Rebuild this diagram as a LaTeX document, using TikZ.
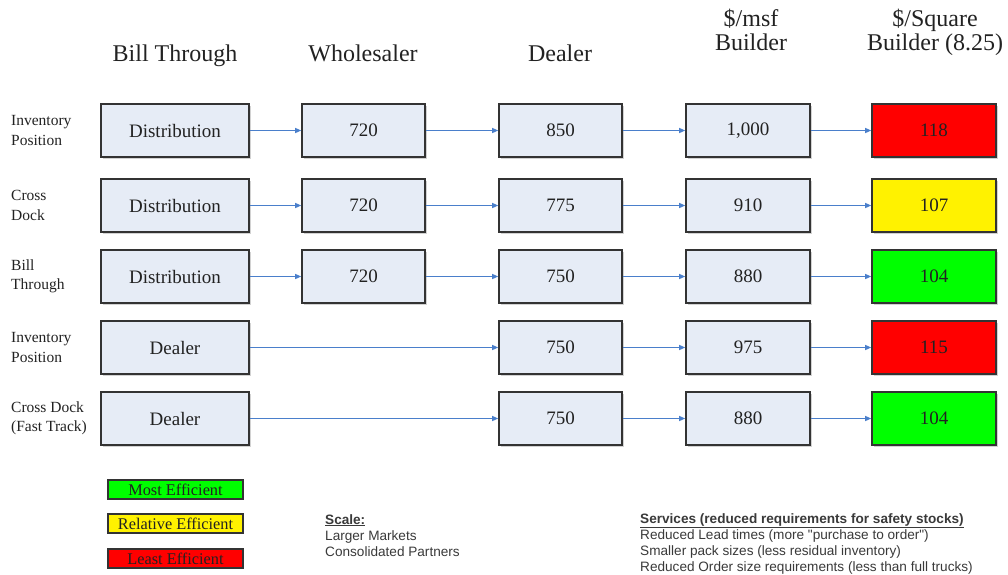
\documentclass[tikz,border=0pt]{standalone}
\usepackage{fontspec}
\setmainfont{Liberation Serif}
\newfontfamily\arialf{Liberation Sans}
\usetikzlibrary{arrows.meta,shadows}
\definecolor{boxfill}{HTML}{E6ECF6}
\definecolor{boxline}{HTML}{333333}
\definecolor{arrowc}{HTML}{4A7FCB}
\definecolor{txt}{HTML}{222222}
\definecolor{sgray}{HTML}{3A3A3A}
\begin{document}
\begin{tikzpicture}[x=1pt,y=-1pt,
  cell/.style={draw=boxline,line width=1.6pt,fill=boxfill,minimum height=53pt,inner sep=0pt,
    font=\fontsize{19}{20}\selectfont,text=txt,
    drop shadow={shadow xshift=1.5pt,shadow yshift=-1.5pt,fill=gray,opacity=0.35}},
  wide/.style={cell,minimum width=148pt},
  mid/.style={cell,minimum width=123pt},
  endc/.style={cell,minimum width=124pt},
  flow/.style={draw=arrowc,line width=1.2pt,-{Triangle[length=6pt,width=5pt]}},
  head/.style={anchor=base,inner sep=0pt,font=\fontsize{24}{26}\selectfont,text=txt},
  side/.style={anchor=west,inner sep=0pt,align=left,font=\fontsize{15.5}{19.5}\selectfont,text=txt},
  legend/.style={draw=boxline,line width=1.3pt,minimum width=135pt,minimum height=19pt,inner sep=0pt,
    font=\fontsize{16.3}{16}\selectfont,text=txt,
    drop shadow={shadow xshift=1pt,shadow yshift=-1pt,fill=gray,opacity=0.35}},
  note/.style={anchor=base west,inner sep=0pt,font=\arialf\fontsize{13.6}{14}\selectfont,text=sgray}
]
\useasboundingbox (0,0) rectangle (1008,574);
\fill[white] (0,0) rectangle (1008,574);

% headers
\node[head] (h1) at (175,61) {Bill Through};
\node[head] (h2) at (363,61) {Wholesaler};
\node[head] (h3) at (560,61) {Dealer};
\node[head] (h4a) at (751,26) {\$/msf};
\node[head] (h4b) at (751,50) {Builder};
\node[head] (h5a) at (935,26) {\$/Square};
\node[head] (h5b) at (935,50) {Builder (8.25)};

% side labels
\node[side] (s1) at (11,130.5) {Inventory\\Position};
\node[side] (s2) at (11,205.5) {Cross\\Dock};
\node[side] (s3) at (11,276.5) {Bill\\Through};
\node[side] (s4) at (11,347.5) {Inventory\\Position};
\node[side] (s5) at (11,418.5) {Cross Dock\\(Fast Track)};

% row 1
\node[wide] (a1) at (175,130.5) {Distribution};
\node[mid]  (b1) at (363.5,130.5) {720};
\node[mid]  (c1) at (560.5,130.5) {850};
\node[endc] (d1) at (748,130.5) {1,000};
\node[endc,fill=red] (e1) at (934,130.5) {118};
% row 2
\node[wide] (a2) at (175,205.5) {Distribution};
\node[mid]  (b2) at (363.5,205.5) {720};
\node[mid]  (c2) at (560.5,205.5) {775};
\node[endc] (d2) at (748,205.5) {910};
\node[endc,fill=yellow] (e2) at (934,205.5) {107};
% row 3
\node[wide] (a3) at (175,276.5) {Distribution};
\node[mid]  (b3) at (363.5,276.5) {720};
\node[mid]  (c3) at (560.5,276.5) {750};
\node[endc] (d3) at (748,276.5) {880};
\node[endc,fill=green] (e3) at (934,276.5) {104};
% row 4
\node[wide] (a4) at (175,347.5) {Dealer};
\node[mid]  (c4) at (560.5,347.5) {750};
\node[endc] (d4) at (748,347.5) {975};
\node[endc,fill=red] (e4) at (934,347.5) {115};
% row 5
\node[wide] (a5) at (175,418.5) {Dealer};
\node[mid]  (c5) at (560.5,418.5) {750};
\node[endc] (d5) at (748,418.5) {880};
\node[endc,fill=green] (e5) at (934,418.5) {104};

% connectors
\foreach \r in {1,2,3}{
  \draw[flow] (a\r) -- (b\r);
  \draw[flow] (b\r) -- (c\r);
  \draw[flow] (c\r) -- (d\r);
  \draw[flow] (d\r) -- (e\r);
}
\foreach \r in {4,5}{
  \draw[flow] (a\r) -- (c\r);
  \draw[flow] (c\r) -- (d\r);
  \draw[flow] (d\r) -- (e\r);
}

% legend
\node[legend,fill=green] (l1) at (175.5,489.5) {Most Efficient};
\node[legend,fill=yellow] (l2) at (175.5,523.5) {Relative Efficient};
\node[legend,fill=red] (l3) at (175.5,558.5) {Least Efficient};

% notes
\node[note] (sc0) at (325,524) {\textbf{\underline{Scale:}}};
\node[note] (sc1) at (325,540) {Larger Markets};
\node[note] (sc2) at (325,556) {Consolidated Partners};

\node[note] (sv0) at (640,523) {\textbf{\underline{Services (reduced requirements for safety stocks)}}};
\node[note] (sv1) at (640,539) {Reduced Lead times (more "purchase to order")};
\node[note] (sv2) at (640,555) {Smaller pack sizes (less residual inventory)};
\node[note] (sv3) at (640,571) {Reduced Order size requirements (less than full trucks)};
\end{tikzpicture}
\end{document}
